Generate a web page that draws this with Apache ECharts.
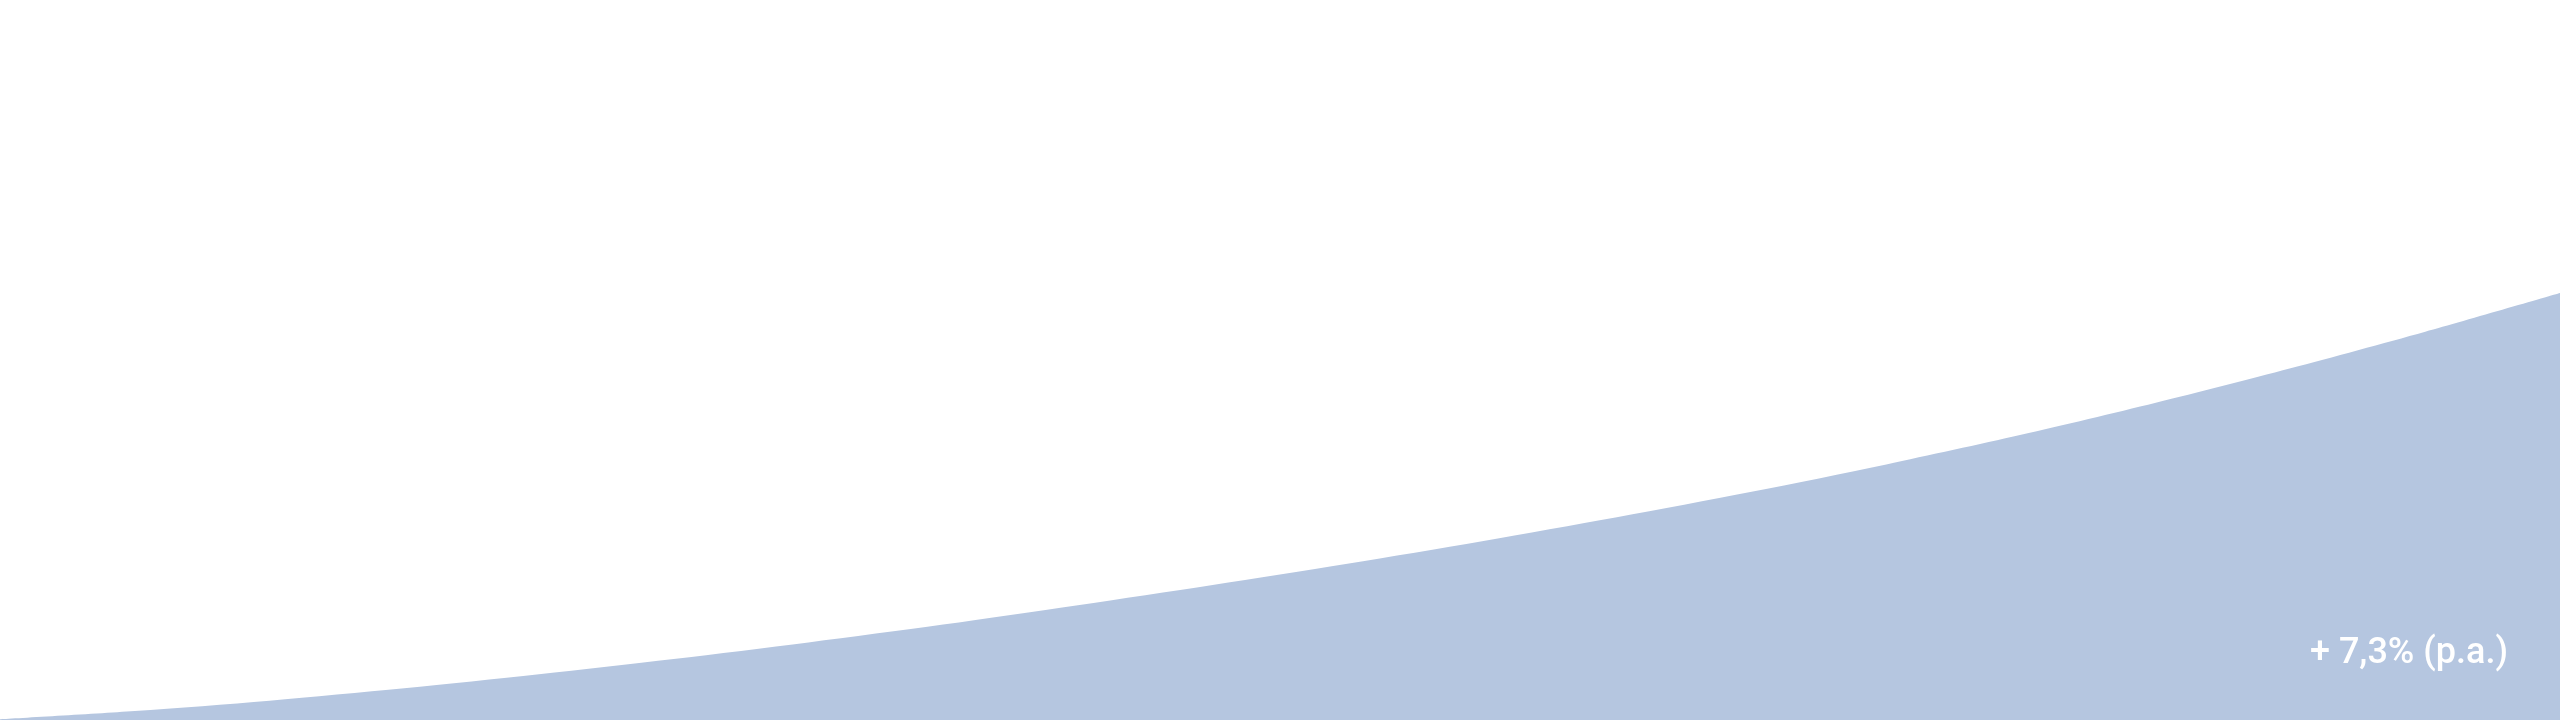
<!DOCTYPE html>
<html>
<head>
<meta charset="utf-8">
<script src="https://cdn.jsdelivr.net/npm/echarts@6/dist/echarts.min.js"></script>
<style>
html,body{margin:0;padding:0;background:#ffffff;}
#chart{width:2560px;height:720px;}
</style>
</head>
<body>
<div id="chart"></div>
<script>
// Years from start (category axis)
const years = ['0','1','2','3','4','5','6','7','8','9','10','11','12','13','14','15','16','17','18','19'];
// Value index (start ≈ 100)
const values = [100.5, 106.0, 112.9, 121.1, 130.5, 140.7, 151.7, 163.6, 176.5, 190.0,
                204.2, 219.2, 235.1, 252.1, 270.4, 290.1, 311.5, 334.5, 358.9, 384.7];
const growthLabel = '+ 7,3% (p.a.)';

const chart = echarts.init(document.getElementById('chart'));
chart.setOption({
  animation: false,
  backgroundColor: '#ffffff',
  grid: { left: 0, right: 0, top: 0, bottom: 0 },
  xAxis: {
    type: 'category',
    data: years,
    boundaryGap: false,
    show: false
  },
  yAxis: {
    type: 'value',
    min: 100,
    max: 580,
    show: false
  },
  series: [{
    type: 'line',
    data: values,
    smooth: 0.3,
    symbol: 'none',
    lineStyle: { width: 0, color: '#b5c6e0' },
    areaStyle: { color: '#b5c6e0', opacity: 1 },
    silent: true,
    z: 2
  }],
  graphic: [{
    type: 'text',
    x: 2508,
    y: 654,
    z: 100,
    style: {
      text: growthLabel,
      fill: '#ffffff',
      font: '500 36px Roboto',
      align: 'right',
      verticalAlign: 'middle'
    }
  }]
});
</script>
</body>
</html>
